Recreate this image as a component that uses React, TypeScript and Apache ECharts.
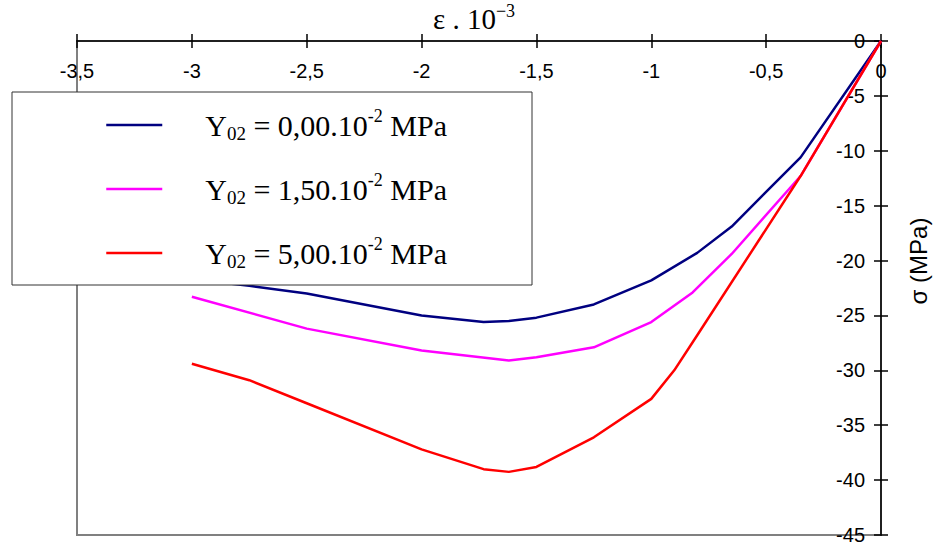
import React, { useEffect, useRef } from 'react';
import * as echarts from 'echarts';

// ---- data ----
const SERIES_NAMES = ['Y02 = 0,00', 'Y02 = 1,50', 'Y02 = 5,00'];
const LEGEND_VALUES = ['0,00', '1,50', '5,00'];
const COLORS = ['#000080', '#FF00FF', '#FF0000'];

const strain0 = [0, -0.35, -0.65, -0.8, -1, -1.25, -1.5, -1.62, -1.73, -2, -2.5, -2.75, -3];
const stress0 = [0, -10.6, -16.9, -19.3, -21.8, -24.0, -25.2, -25.5, -25.6, -25.0, -23.0, -22.3, -21.7];

const strain15 = [0, -0.35, -0.65, -0.82, -1, -1.25, -1.5, -1.62, -2, -2.5, -3];
const stress15 = [0, -12.3, -19.4, -22.9, -25.6, -27.9, -28.8, -29.1, -28.2, -26.2, -23.3];

const strain50 = [0, -0.35, -0.8, -0.9, -1, -1.25, -1.5, -1.62, -1.73, -2, -2.5, -2.75, -3];
const stress50 = [0, -12.3, -26.8, -30.0, -32.6, -36.1, -38.8, -39.25, -39.0, -37.2, -33.0, -30.9, -29.4];

const X_MIN = -3.5;
const X_MAX = 0;
const X_STEP = 0.5;
const Y_MIN = -45;
const Y_MAX = 0;
const Y_STEP = 5;

const X_NAME = '{m|ε . 10}{sup|−3}';
const Y_NAME = 'σ (MPa)';

const SANS = '"Liberation Sans", Arial, sans-serif';
const SERIF = '"Liberation Serif", "Times New Roman", serif';

const zip = (xs: number[], ys: number[]) => xs.map((x, i) => [x, ys[i]]);
const comma = (v: number) => String(v).replace('.', ',');

export default function App() {
  const ref = useRef<HTMLDivElement>(null);

  useEffect(() => {
    if (!ref.current) return;
    const chart = echarts.init(ref.current, undefined, { renderer: 'svg' });

    const seriesData = [zip(strain0, stress0), zip(strain15, stress15), zip(strain50, stress50)];

    const tickLine = { color: '#000', width: 1.5 };

    const option: any = {
      animation: false,
      backgroundColor: '#fff',
      grid: {
        left: 77,
        right: 55,
        top: 41,
        bottom: 12,
        show: true,
        borderColor: '#808080',
        borderWidth: 2,
        backgroundColor: 'transparent',
        containLabel: false,
        outerBoundsMode: 'none',
      },
      legend: {
        orient: 'vertical',
        left: 105,
        top: 107,
        padding: 0,
        itemWidth: 56,
        itemHeight: 14,
        itemGap: 28,
        itemStyle: { opacity: 0, borderWidth: 0 },
        lineStyle: { width: 2.5 },
        data: SERIES_NAMES,
        formatter: (name: string) => {
          const i = SERIES_NAMES.indexOf(name);
          return `{gap| }{m|Y}{sub|02}{m| = ${LEGEND_VALUES[i]}.10}{sup|-2}{m| MPa}`;
        },
        textStyle: {
          fontFamily: SERIF,
          fontSize: 30,
          lineHeight: 36,
          color: '#000',
          rich: {
            gap: { width: 38, fontSize: 30, lineHeight: 36, fontFamily: SERIF },
            m: { fontSize: 30, lineHeight: 36, fontFamily: SERIF, color: '#000' },
            sub: { fontSize: 19, lineHeight: 22, verticalAlign: 'bottom', fontFamily: SERIF, color: '#000' },
            sup: { fontSize: 18, lineHeight: 31, verticalAlign: 'top', fontFamily: SERIF, color: '#000' },
          },
        },
      },
      graphic: [
        {
          type: 'rect',
          z: 3,
          shape: { x: 12, y: 92, width: 520, height: 193 },
          style: { fill: '#fff', stroke: '#333', lineWidth: 1 },
        },
      ],
      xAxis: [
        {
          type: 'value',
          position: 'top',
          min: X_MIN,
          max: X_MAX,
          interval: X_STEP,
          axisLine: { show: true, onZero: false, lineStyle: tickLine },
          axisTick: { show: true, inside: true, length: 7, lineStyle: tickLine },
          axisLabel: {
            inside: true,
            margin: 20,
            fontSize: 20,
            fontFamily: SANS,
            color: '#000',
            showMinLabel: true,
            showMaxLabel: true,
            formatter: (v: number) => comma(v),
          },
          splitLine: { show: false },
          name: X_NAME,
          nameLocation: 'middle',
          nameGap: 1,
          nameTextStyle: {
            fontFamily: SERIF,
            fontSize: 29,
            lineHeight: 34,
            color: '#000',
            padding: [0, 10, 0, 0],
            rich: {
              m: { fontFamily: SERIF, fontSize: 29, lineHeight: 34, color: '#000' },
              sup: { fontFamily: SERIF, fontSize: 18, lineHeight: 18, verticalAlign: 'top', color: '#000' },
            },
          },
        },
        {
          type: 'value',
          position: 'top',
          min: X_MIN,
          max: X_MAX,
          interval: X_STEP,
          axisLine: { show: false, onZero: false },
          axisTick: { show: true, inside: false, length: 7, lineStyle: tickLine },
          axisLabel: { show: false },
          splitLine: { show: false },
        },
      ],
      yAxis: [
        {
          type: 'value',
          position: 'right',
          min: Y_MIN,
          max: Y_MAX,
          interval: Y_STEP,
          axisLine: { show: true, onZero: false, lineStyle: tickLine },
          axisTick: { show: true, inside: true, length: 7, lineStyle: tickLine },
          axisLabel: {
            inside: true,
            margin: 16,
            fontSize: 20,
            fontFamily: SANS,
            color: '#000',
            showMinLabel: true,
            showMaxLabel: true,
            formatter: (v: number) => comma(v),
          },
          splitLine: { show: false },
          name: Y_NAME,
          nameLocation: 'middle',
          nameRotate: 90,
          nameGap: 25,
          nameTextStyle: { fontFamily: SANS, fontSize: 24, color: '#000', padding: [0, 0, 0, 54] },
        },
        {
          type: 'value',
          position: 'right',
          min: Y_MIN,
          max: Y_MAX,
          interval: Y_STEP,
          axisLine: { show: false, onZero: false },
          axisTick: { show: true, inside: false, length: 7, lineStyle: tickLine },
          axisLabel: { show: false },
          splitLine: { show: false },
        },
      ],
      series: SERIES_NAMES.map((name, i) => ({
        name,
        type: 'line',
        xAxisIndex: 0,
        yAxisIndex: 0,
        data: seriesData[i],
        symbol: 'none',
        showSymbol: false,
        smooth: false,
        color: COLORS[i],
        lineStyle: { color: COLORS[i], width: 2.5 },
        itemStyle: { color: COLORS[i] },
        z: 2,
      })),
    };

    chart.setOption(option);
    return () => chart.dispose();
  }, []);

  return (
    <div
      ref={ref}
      style={{ position: 'fixed', left: 0, top: 0, width: 936, height: 547, background: '#fff' }}
    />
  );
}
